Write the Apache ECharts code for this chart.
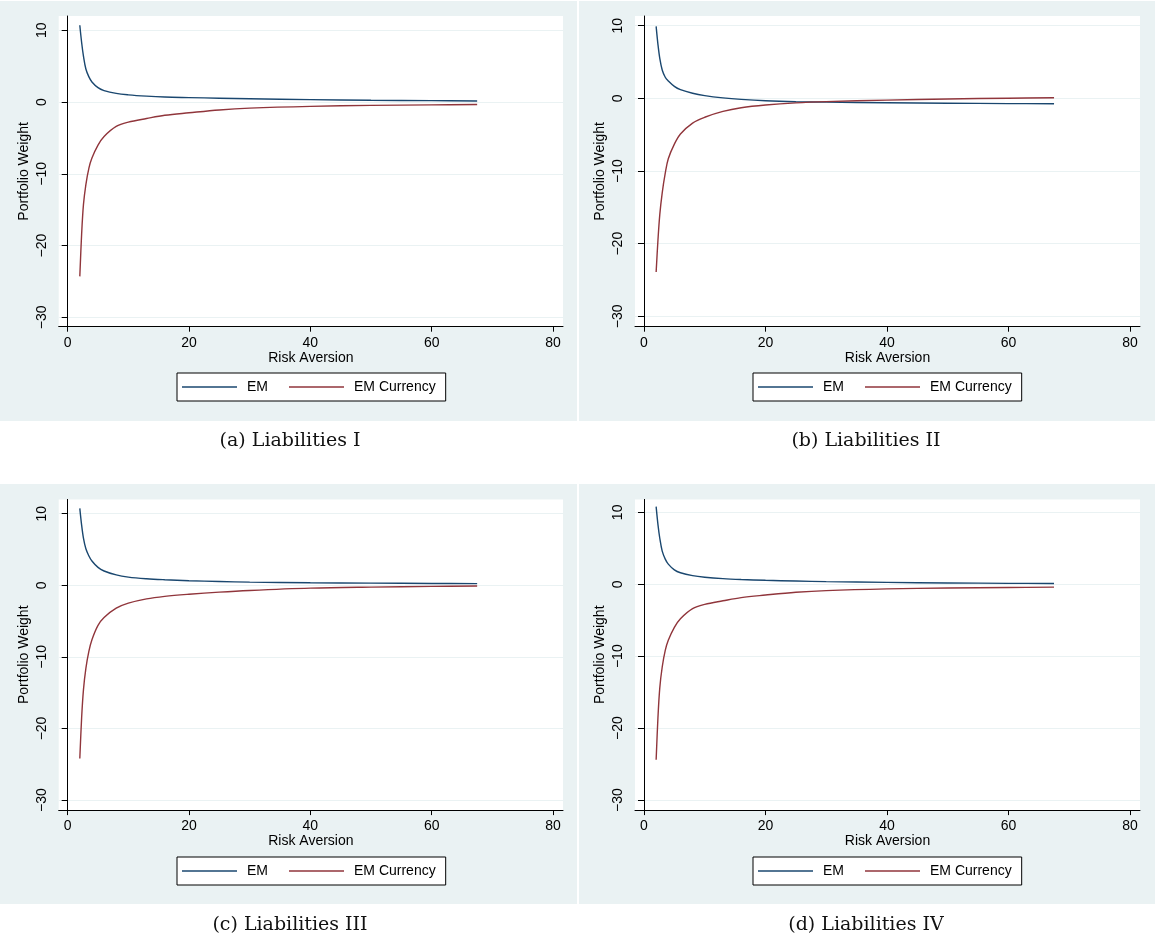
<!DOCTYPE html>
<html>
<head>
<meta charset="utf-8">
<title>Portfolio Weight vs Risk Aversion</title>
<script src="https://cdn.jsdelivr.net/npm/echarts@6/dist/echarts.min.js"></script>
<style>
  html, body { margin: 0; padding: 0; background: #ffffff; }
  #chart { width: 1155px; height: 942px; }
</style>
</head>
<body>
<div id="chart"></div>
<script>
// Risk aversion grid (shared by all four panels)
const riskAversion = [2, 2.3, 2.6, 3, 3.5, 4, 5, 6, 8, 10, 13, 16, 20, 25, 30, 40, 50, 60, 67.5];

// Portfolio weights, panel (a)
const emA    = [10.7, 8.3, 6.4, 4.6, 3.5, 2.8, 2.0, 1.6, 1.2, 1.0, 0.82, 0.7, 0.62, 0.53, 0.45, 0.33, 0.25, 0.19, 0.15];
const emCurA = [-24.3, -18.4, -14.3, -11.5, -9.2, -7.8, -6.0, -4.8, -3.4, -2.8, -2.3, -1.85, -1.5, -1.1, -0.85, -0.6, -0.47, -0.4, -0.35];
// Panel (b)
const emB    = [9.9, 7.4, 5.5, 3.9, 2.9, 2.4, 1.65, 1.2, 0.7, 0.38, 0.07, -0.14, -0.33, -0.46, -0.52, -0.61, -0.67, -0.72, -0.75];
const emCurB = [-23.9, -19.5, -16.0, -13.0, -10.3, -8.3, -6.3, -4.9, -3.4, -2.6, -1.8, -1.3, -0.92, -0.62, -0.45, -0.24, -0.09, 0.02, 0.08];
// Panel (c)
const emC    = [10.75, 8.4, 6.6, 5.1, 4.1, 3.4, 2.5, 2.0, 1.45, 1.15, 0.92, 0.78, 0.64, 0.53, 0.45, 0.35, 0.3, 0.26, 0.24];
const emCurC = [-24.2, -18.5, -14.6, -11.6, -9.2, -7.6, -5.6, -4.5, -3.2, -2.5, -1.9, -1.55, -1.25, -0.95, -0.72, -0.4, -0.25, -0.15, -0.1];
// Panel (d)
const emD    = [10.8, 8.3, 6.4, 4.6, 3.5, 2.8, 2.0, 1.6, 1.2, 0.98, 0.78, 0.66, 0.55, 0.45, 0.37, 0.26, 0.18, 0.13, 0.1];
const emCurD = [-24.4, -18.5, -14.4, -11.5, -9.2, -7.8, -6.0, -4.8, -3.4, -2.8, -2.3, -1.85, -1.5, -1.12, -0.88, -0.64, -0.52, -0.45, -0.4];

const xTicks = [0, 20, 40, 60, 80];
const yTicks = [-30, -20, -10, 0, 10];
const seriesNames = ['EM', 'EM Currency'];
const captions = ['(a) Liabilities I', '(b) Liabilities II', '(c) Liabilities III', '(d) Liabilities IV'];

const panelValues = [[emA, emCurA], [emB, emCurB], [emC, emCurC], [emD, emCurD]];

// Layout of the 2x2 arrangement
const panels = [
  { bg: [0, 1, 577, 420],   grid: [58.7, 16, 504.3, 310.7],  y: [-31.31, 11.99], legend: [177, 373], cap: [290, 441] },
  { bg: [579, 1, 576, 420], grid: [635, 16, 505, 310.7],     y: [-31.42, 11.33], legend: [753, 373], cap: [866, 441] },
  { bg: [0, 484, 577, 420], grid: [58.7, 499.4, 504.3, 310.7], y: [-31.4, 12.0], legend: [177, 857], cap: [290, 925] },
  { bg: [579, 484, 576, 420], grid: [635, 499.4, 505, 310.7], y: [-31.4, 11.8],  legend: [753, 857], cap: [866, 925] }
];

const colors = ['#1a476f', '#90353b'];
const sansFont = '"Liberation Sans", Arial, Helvetica, sans-serif';
const minus = v => String(v).replace('-', '\u2212');

const grid = [], xAxis = [], yAxis = [], series = [], legend = [], graphic = [];

panels.forEach((p, i) => {
  graphic.push({
    type: 'rect', z: -10, silent: true,
    shape: { x: p.bg[0], y: p.bg[1], width: p.bg[2], height: p.bg[3] },
    style: { fill: '#eaf2f3' }
  });
  graphic.push({
    type: 'text', silent: true,
    x: p.cap[0], y: p.cap[1],
    style: {
      text: captions[i],
      font: '19px "DejaVu Serif", "Liberation Serif", serif',
      fill: '#111111', align: 'center', verticalAlign: 'middle'
    }
  });

  grid.push({
    left: p.grid[0], top: p.grid[1], width: p.grid[2], height: p.grid[3],
    show: true, backgroundColor: '#ffffff', borderWidth: 0
  });

  xAxis.push({
    type: 'value', gridIndex: i, min: -1.48, max: 81.65,
    name: 'Risk Aversion', nameLocation: 'middle', nameGap: 24,
    nameTextStyle: { fontFamily: sansFont, fontSize: 14, color: '#000' },
    axisLine: { show: true, onZero: false, lineStyle: { color: '#000', width: 1 } },
    axisTick: { show: true, length: 5, customValues: xTicks, lineStyle: { color: '#000' } },
    axisLabel: { customValues: xTicks, fontFamily: sansFont, fontSize: 14, color: '#000', margin: 9 },
    splitLine: { show: false }
  });

  yAxis.push({
    type: 'value', gridIndex: i, min: p.y[0], max: p.y[1],
    name: 'Portfolio Weight', nameLocation: 'middle', nameGap: 28, nameRotate: 90,
    nameTextStyle: { fontFamily: sansFont, fontSize: 14, color: '#000' },
    axisLine: { show: true, lineStyle: { color: '#000', width: 1 } },
    axisTick: { show: true, length: 6, customValues: yTicks, lineStyle: { color: '#000' } },
    axisLabel: {
      customValues: yTicks, rotate: 90, fontFamily: sansFont, fontSize: 14, color: '#000',
      margin: 10, formatter: minus
    },
    splitLine: { show: true, lineStyle: { color: '#eaf2f3', width: 1.2 } }
  });

  seriesNames.forEach((name, k) => {
    series.push({
      type: 'line', name: name, xAxisIndex: i, yAxisIndex: i,
      data: riskAversion.map((x, j) => [x, panelValues[i][k][j]]),
      showSymbol: false, symbol: 'none',
      smooth: 0.35,
      color: colors[k],
      lineStyle: { color: colors[k], width: 1.4 },
      animation: false, silent: true
    });
  });

  legend.push({
    left: p.legend[0], top: p.legend[1],
    orient: 'horizontal',
    data: seriesNames,
    icon: 'rect', itemWidth: 55, itemHeight: 1.3, itemGap: 21,
    padding: [7, 10, 7, 5],
    backgroundColor: '#ffffff', borderColor: '#000000', borderWidth: 1, borderRadius: 0,
    selectedMode: false,
    textStyle: { fontFamily: sansFont, fontSize: 14, color: '#000', padding: [0, 0, 0, 5] }
  });
});

const chart = echarts.init(document.getElementById('chart'), null, { renderer: 'canvas' });
chart.setOption({
  animation: false,
  backgroundColor: '#ffffff',
  grid, xAxis, yAxis, series, legend, graphic
});
</script>
</body>
</html>
